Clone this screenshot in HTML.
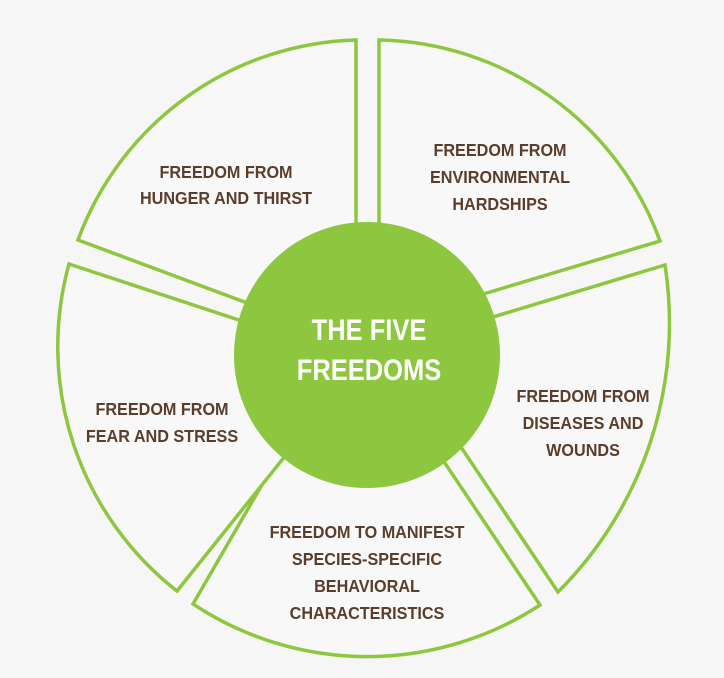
<!DOCTYPE html>
<html><head><style>
html,body{margin:0;padding:0;background:#f6f6f6;}
svg{display:block}
text{font-family:"Liberation Sans",sans-serif;font-weight:bold;}
</style></head><body>
<svg width="724" height="678" viewBox="0 0 724 678">
<rect width="724" height="678" fill="#f6f6f6"/>
<g fill="#f8f8f8" stroke="#8dc63f" stroke-width="3.5" stroke-linejoin="miter">
<path d="M356,40 L356,330 L320,330 L78,240 A305,305 0 0 1 356,40 Z"/>
<path d="M379,40 A305,305 0 0 1 660,241 L400,319 L379,319 Z"/>
<path d="M665,265 A380,380 0 0 1 558,592 L400,356 L420,339 Z"/>
<path d="M193,604 L330,367 L400,396 L540,605 A315,315 0 0 1 193,604 Z"/>
<path d="M69,264 L330,350 L330,400 L177,591 A310,310 0 0 1 69,264 Z"/>
</g>
<circle cx="367" cy="355" r="133" fill="#8dc63f"/>
<g fill="#fff" font-size="30" text-anchor="middle" transform="translate(369,0) scale(0.85,1)">
<text x="0" y="340">THE FIVE</text>
<text x="0" y="380">FREEDOMS</text>
</g>
<g fill="#5a3e2b" font-size="18" text-anchor="middle">
<g transform="translate(226,0) scale(0.9,1)">
<text x="0" y="178">FREEDOM FROM</text>
<text x="0" y="204">HUNGER AND THIRST</text></g>
<g transform="translate(500,0) scale(0.9,1)">
<text x="0" y="156">FREEDOM FROM</text>
<text x="0" y="183">ENVIRONMENTAL</text>
<text x="0" y="210">HARDSHIPS</text></g>
<g transform="translate(583,0) scale(0.9,1)">
<text x="0" y="402">FREEDOM FROM</text>
<text x="0" y="429">DISEASES AND</text>
<text x="0" y="456">WOUNDS</text></g>
<g transform="translate(162,0) scale(0.9,1)">
<text x="0" y="415">FREEDOM FROM</text>
<text x="0" y="442">FEAR AND STRESS</text></g>
<g transform="translate(367,0) scale(0.9,1)">
<text x="0" y="538">FREEDOM TO MANIFEST</text>
<text x="0" y="565">SPECIES-SPECIFIC</text>
<text x="0" y="592">BEHAVIORAL</text>
<text x="0" y="619">CHARACTERISTICS</text></g>
</g>
</svg>
</body></html>
